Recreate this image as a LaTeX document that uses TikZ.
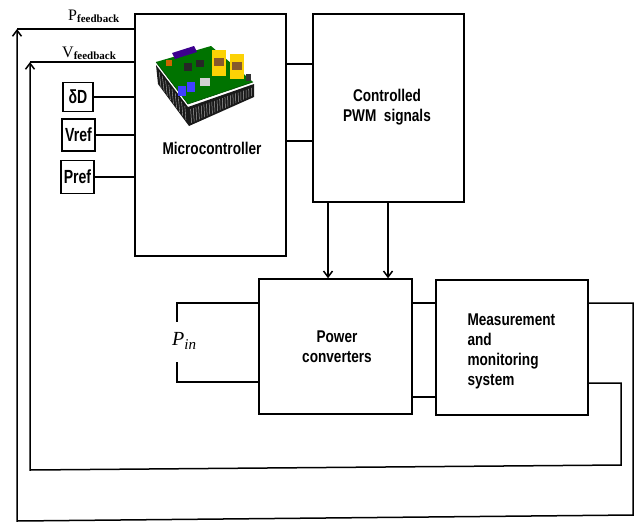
\documentclass[tikz,border=0pt]{standalone}
\usepackage{fontspec}
\setmainfont{Liberation Serif}
\newfontfamily\lab{Liberation Sans}[FakeStretch=0.8]
\newfontfamily\labn{Liberation Sans}[FakeStretch=0.74]
\usetikzlibrary{arrows.meta}
\begin{document}
\begin{tikzpicture}[x=1pt,y=-1pt,
  box/.style={draw,line width=1.5pt,inner sep=0pt,fill=white},
  btext/.style={font=\lab\bfseries\fontsize{17}{20}\selectfont},
  smallbox/.style={draw,line width=1.5pt,inner sep=0pt,font=\labn\bfseries\fontsize{19}{19}\selectfont},
  wire/.style={line width=1.5pt},
  arr/.style={line width=1.5pt,-{Straight Barb[length=6pt,width=9pt]}}]
\useasboundingbox (0,0) rectangle (639,522);

% main boxes
\node[box,minimum width=151pt,minimum height=242pt] (micro) at (210.5,135) {};
\node[box,minimum width=151pt,minimum height=188pt] (pwm) at (388.5,108) {};
\node[box,minimum width=153pt,minimum height=135pt] (power) at (335.5,346.5) {};
\node[box,minimum width=152pt,minimum height=135pt] (meas) at (512,347.5) {};

% small input boxes
\node[smallbox,minimum width=30pt,minimum height=29pt] (dD) at (78,97) {δD};
\node[smallbox,minimum width=33pt,minimum height=32pt] (vref) at (78.5,135) {Vref};
\node[smallbox,minimum width=33pt,minimum height=33pt] (pref) at (77.5,177) {Pref};

% texts
\node[btext] (microtxt) at (212,148) {Microcontroller};
\node[btext,align=center] (pwmtxt) at (387,107) {Controlled\\PWM\ \ signals};
\node[btext,align=center] (powtxt) at (337,347) {Power\\converters};
\node[btext,align=left,anchor=west] (meastxt) at (464,351) {Measurement\\and\\monitoring\\system};
\node[inner sep=0pt,anchor=base west] (pin) at (172,345) {{\fontsize{20}{20}\selectfont\itshape P}{\fontsize{15}{15}\selectfont\itshape\raisebox{-4pt}{in}}};
\node[inner sep=0pt,anchor=base west] (pfb) at (68,20) {{\fontsize{16}{16}\selectfont P}{\fontsize{11}{11}\selectfont\bfseries\raisebox{-2pt}{feedback}}};
\node[inner sep=0pt,anchor=base west] (vfb) at (62,57) {{\fontsize{16}{16}\selectfont V}{\fontsize{11}{11}\selectfont\bfseries\raisebox{-2pt}{feedback}}};

% board picture
\begin{scope}
  \fill[black!90] (156,65) -- (188,107) -- (254,84) -- (254,97) -- (189,126) -- (158,84) -- cycle;
  \foreach \t in {0.04,0.08,...,0.97}{
    \draw[gray!70,line width=0.5pt] ({188+66*\t},{110-23*\t}) -- ({189+65*\t},{124-29*\t});
  }
  \foreach \t in {0.1,0.2,...,0.9}{
    \draw[gray!60,line width=0.4pt] ({156+32*\t},{68+42*\t}) -- ({158+31*\t},{84+40*\t});
  }
  \fill[green!45!black] (156,62) -- (211,46) -- (253,82) -- (188,104) -- cycle;
  \draw[green!30!black,line width=0.6pt] (156,62) -- (188,104) -- (253,82);
  \fill[blue!40!violet!80!black] (172,53) -- (194,46) -- (197,52) -- (175,59) -- cycle;
  \fill[yellow!70!orange] (212,50) rectangle (226,76);
  \fill[yellow!70!orange] (230,54) rectangle (244,79);
  \fill[brown!70!black] (214,58) rectangle (224,66);
  \fill[brown!70!black] (232,62) rectangle (242,70);
  \fill[blue!75] (178,86) rectangle (186,96);
  \fill[blue!75] (187,82) rectangle (195,92);
  \fill[black!85] (184,63) rectangle (192,71);
  \fill[black!85] (196,60) rectangle (204,67);
  \fill[gray!35] (200,78) rectangle (210,86);
  \fill[black!80] (246,74) rectangle (251,81);
  \fill[orange!80!black] (166,60) rectangle (172,66);
\end{scope}

% connectors micro -> pwm
\draw[wire] (micro.east |- 0,64) -- (pwm.west |- 0,64);
\draw[wire] (micro.east |- 0,141) -- (pwm.west |- 0,141);
% inputs
\draw[wire] (dD.east) -- (micro.west |- dD.east);
\draw[wire] (vref.east) -- (micro.west |- vref.east);
\draw[wire] (pref.east) -- (micro.west |- pref.east);
% pwm -> power
\draw[arr] (pwm.south -| 328,0) -- (power.north -| 328,0);
\draw[arr] (pwm.south -| 388,0) -- (power.north -| 388,0);
% power <-> meas
\draw[wire] (power.east |- 0,303) -- (meas.west |- 0,303);
\draw[wire] (power.east |- 0,397) -- (meas.west |- 0,397);
% Pin bracket
\draw[wire] (power.west |- 0,303) -- (177,303) -- (177,322);
\draw[wire] (177,362) -- (177,382) -- (power.west |- 0,382);
% feedback loops
\coordinate (ptop) at (17,29);
\coordinate (vtop) at (30,62);
\draw[arr] (meas.east |- 0,303) -- (633,303) -- (633,515) -- (17,521) -- (ptop);
\draw[wire] (ptop) -- (micro.west |- ptop);
\draw[arr] (meas.east |- 0,383) -- (621,383) -- (621,465) -- (30,470) -- (vtop);
\draw[wire] (vtop) -- (micro.west |- vtop);
\end{tikzpicture}
\end{document}
